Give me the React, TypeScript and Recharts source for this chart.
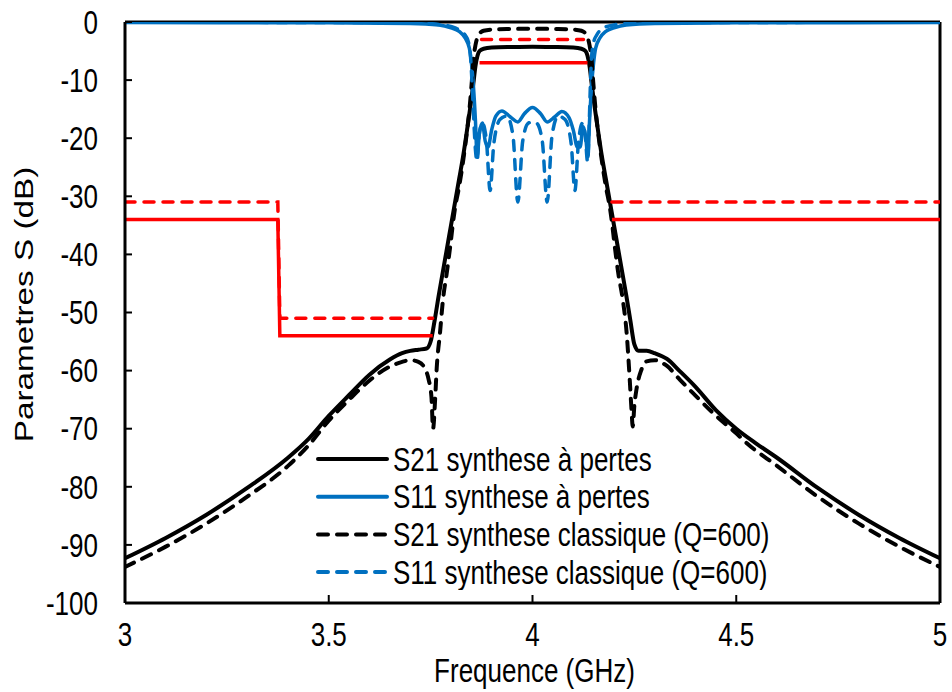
import React from 'react';
import { LineChart, Line, XAxis, YAxis, ReferenceLine, Legend } from 'recharts';

const FONT = '"Liberation Sans", Arial, sans-serif';
const FS = 26;
// the reference glyphs are taller than they are wide
const SY = 1.28;

// [frequence GHz, dB]
const s21Pertes: [number, number][] = [
  [3.0, -92.3], [3.1, -88.8], [3.2, -84.8], [3.3, -80.2], [3.4, -75.0], [3.45, -71.8],
  [3.5, -67.8], [3.55, -64.2], [3.6, -60.7], [3.65, -58.1], [3.68, -57.0], [3.7, -56.6],
  [3.72, -56.4], [3.74, -56.2], [3.75, -55.0], [3.76, -51.3], [3.77, -47.0], [3.78, -43.0],
  [3.79, -39.0], [3.8, -35.0], [3.81, -31.0], [3.82, -27.0], [3.83, -23.0], [3.84, -18.3],
  [3.85, -13.3], [3.855, -10.5], [3.86, -7.6], [3.865, -5.8], [3.87, -5.0], [3.88, -4.6],
  [3.9, -4.4], [3.95, -4.3], [4.0, -4.25], [4.05, -4.3], [4.1, -4.4], [4.12, -4.6],
  [4.13, -5.0], [4.135, -5.8], [4.14, -7.6], [4.145, -10.5], [4.15, -13.3], [4.16, -18.3],
  [4.17, -23.0], [4.18, -27.0], [4.19, -31.0], [4.2, -35.0], [4.21, -39.0], [4.22, -43.0],
  [4.23, -47.0], [4.24, -51.3], [4.25, -55.5], [4.26, -56.6], [4.28, -56.6], [4.3, -57.0],
  [4.33, -58.0], [4.36, -60.0], [4.4, -62.8], [4.45, -66.8], [4.5, -70.0], [4.55, -72.6],
  [4.6, -75.0], [4.7, -80.2], [4.8, -84.8], [4.9, -88.8], [5.0, -92.3],
];

const s11Pertes: [number, number][] = [
  [3.0, -0.1], [3.5, -0.15], [3.7, -0.25], [3.77, -0.5], [3.8, -1.0], [3.82, -1.6],
  [3.835, -2.8], [3.845, -4.5], [3.85, -7.0], [3.855, -11.0], [3.86, -17.0], [3.864, -23.2],
  [3.87, -19.0], [3.877, -17.4], [3.884, -20.5], [3.891, -21.5], [3.9, -18.5], [3.91, -16.2],
  [3.925, -15.3], [3.945, -16.3], [3.964, -17.2], [3.98, -15.8], [4.0, -14.7], [4.02, -15.8],
  [4.036, -17.2], [4.055, -16.3], [4.072, -15.4], [4.09, -16.5], [4.1, -18.6], [4.11, -21.5],
  [4.117, -21.5], [4.124, -18.0], [4.13, -19.5], [4.136, -23.2], [4.14, -17.0], [4.145, -11.0],
  [4.15, -7.0], [4.155, -4.5], [4.165, -2.8], [4.18, -1.6], [4.2, -1.0], [4.23, -0.5],
  [4.3, -0.25], [4.5, -0.15], [5.0, -0.1],
];

const s21Classique: [number, number][] = [
  [3.0, -93.8], [3.1, -90.3], [3.2, -86.3], [3.3, -81.7], [3.4, -76.4], [3.45, -72.9],
  [3.5, -68.6], [3.55, -65.0], [3.6, -61.7], [3.65, -59.3], [3.68, -58.5], [3.7, -58.2],
  [3.72, -58.5], [3.735, -59.5], [3.745, -61.5], [3.752, -64.5], [3.756, -70.0], [3.761, -65.0],
  [3.765, -59.5], [3.773, -53.5], [3.78, -48.0], [3.79, -43.0], [3.8, -37.5], [3.805, -34.5],
  [3.81, -32.0], [3.82, -28.3], [3.83, -23.8], [3.84, -18.4], [3.846, -14.5], [3.851, -10.3],
  [3.855, -6.5], [3.86, -4.0], [3.865, -2.6], [3.87, -2.0], [3.88, -1.5], [3.9, -1.3],
  [3.95, -1.2], [4.0, -1.15], [4.05, -1.2], [4.1, -1.3], [4.12, -1.5], [4.13, -2.0],
  [4.135, -2.6], [4.14, -4.0], [4.145, -6.5], [4.149, -10.3], [4.154, -14.5], [4.16, -18.4],
  [4.17, -23.8], [4.18, -28.3], [4.19, -32.0], [4.195, -34.5], [4.2, -37.5], [4.21, -43.0],
  [4.222, -48.0], [4.231, -53.5], [4.239, -62.0], [4.243, -66.8], [4.246, -69.6], [4.25, -66.0],
  [4.255, -63.3], [4.267, -59.9], [4.28, -58.4], [4.3, -58.2], [4.313, -58.5], [4.33, -59.2],
  [4.362, -61.6], [4.4, -64.3], [4.443, -67.3], [4.5, -70.8], [4.526, -72.5], [4.6, -76.4],
  [4.7, -81.7], [4.8, -86.3], [4.9, -90.3], [5.0, -93.8],
];

const s11Classique: [number, number][] = [
  [3.0, -0.05], [3.5, -0.08], [3.7, -0.12], [3.78, -0.5], [3.81, -1.0], [3.834, -2.2],
  [3.843, -3.5], [3.848, -6.0], [3.852, -11.0], [3.856, -17.0], [3.86, -22.0], [3.864, -24.0],
  [3.869, -19.5], [3.877, -17.4], [3.887, -20.5], [3.896, -29.0], [3.905, -21.0], [3.92, -16.8],
  [3.937, -16.2], [3.952, -19.5], [3.964, -31.0], [3.976, -20.5], [3.99, -17.4], [4.0, -17.2],
  [4.01, -17.4], [4.024, -20.5], [4.036, -31.0], [4.048, -19.5], [4.063, -16.2], [4.08, -16.8],
  [4.095, -21.0], [4.104, -29.0], [4.113, -20.5], [4.123, -17.4], [4.13, -20.0], [4.135, -24.0],
  [4.139, -18.0], [4.142, -11.0], [4.145, -6.0], [4.15, -3.5], [4.158, -2.2], [4.17, -1.2],
  [4.2, -0.5], [4.25, -0.2], [4.5, -0.08], [5.0, -0.05],
];

// gabarits (null = coupure)
const gabaritPertes: [number, number | null][] = [
  [3.0, -34], [3.375, -34], [3.38, -54], [3.755, -54], [3.8, null],
  [3.87, -7], [4.135, -7], [4.17, null], [4.195, -34], [5.0, -34],
];

const gabaritClassique: [number, number | null][] = [
  [3.0, -31], [3.375, -31], [3.38, -51], [3.755, -51], [3.8, null],
  [3.875, -3], [4.125, -3], [4.17, null], [4.195, -31], [5.0, -31],
];

const xTicks = [3, 3.5, 4, 4.5, 5];
const yTicks = [-100, -90, -80, -70, -60, -50, -40, -30, -20, -10, 0];

const legendOrder = [
  'S21 synthese à pertes',
  'S11 synthese à pertes',
  'S21 synthese classique (Q=600)',
  'S11 synthese classique (Q=600)',
];

const rows = (pts: [number, number | null][]) => pts.map(([f, db]) => ({ f, db }));

const DASH = '10 9';

const Txt = ({ x, y, anchor = 'middle', rotate = 0, children }: any) => (
  <text
    transform={`translate(${x},${y}) scale(1,${SY})${rotate ? ` rotate(${rotate})` : ''}`}
    textAnchor={anchor}
    dominantBaseline="central"
    fontSize={FS}
    fontFamily={FONT}
    fill="#000"
  >
    {children}
  </text>
);

const YTick = ({ x, y, payload }: any) => <Txt x={x} y={y} anchor="end">{payload.value}</Txt>;

const XTick = ({ x, y, payload }: any) => <Txt x={x} y={y}>{payload.value}</Txt>;

const yTitle = ({ viewBox }: any) => (
  <Txt x={24} y={viewBox.y + viewBox.height / 2 - 8} rotate={-90}>Parametres S (dB)</Txt>
);

const xTitle = ({ viewBox }: any) => (
  <Txt x={viewBox.x + viewBox.width / 2 + 2} y={670}>Frequence (GHz)</Txt>
);

const renderLegend = (props: any) => {
  const items = (props.payload || [])
    .filter((e: any) => e.type !== 'none')
    .sort((a: any, b: any) => legendOrder.indexOf(a.value) - legendOrder.indexOf(b.value));
  return (
    <svg width={480} height={150}>
      {items.map((e: any, i: number) => {
        const cy = 19 + i * 37.7;
        const dash = e.payload?.strokeDasharray;
        return (
          <g key={e.value}>
            <line x1={8} x2={77} y1={cy} y2={cy} stroke={e.color} strokeWidth={4}
              strokeDasharray={dash} strokeLinecap="round" />
            <Txt x={83} y={cy} anchor="start">{e.value}</Txt>
          </g>
        );
      })}
    </svg>
  );
};

export default function App() {
  return (
    <div style={{ position: 'absolute', left: 0, top: 0, width: 952, height: 692, background: '#fff' }}>
      <LineChart width={952} height={692} margin={{ top: 22, right: 12, left: 0, bottom: 0 }}>
        <XAxis
          dataKey="f"
          type="number"
          domain={[3, 5]}
          ticks={xTicks}
          allowDataOverflow
          height={89}
          axisLine={{ stroke: '#000', strokeWidth: 3 }}
          tickLine={{ stroke: '#000', strokeWidth: 2 }}
          tickSize={-8}
          tickMargin={39}
          tick={<XTick />}
          label={xTitle}
        />
        <YAxis
          type="number"
          domain={[-100, 0]}
          ticks={yTicks}
          allowDataOverflow
          width={125}
          axisLine={{ stroke: '#000', strokeWidth: 3 }}
          tickLine={{ stroke: '#000', strokeWidth: 2 }}
          tickSize={-7}
          tickMargin={34}
          tick={<YTick />}
          label={yTitle}
        />
        <ReferenceLine y={0} stroke="#000" strokeWidth={3} />
        <ReferenceLine x={5} stroke="#000" strokeWidth={3} />
        <Legend
          layout="vertical"
          align="center"
          verticalAlign="middle"
          content={renderLegend}
          wrapperStyle={{ left: 310, top: 440, width: 480, height: 150 }}
        />
        <Line data={rows(s21Pertes)} dataKey="db" name="S21 synthese à pertes" type="monotone"
          stroke="#000000" strokeWidth={4} dot={false} isAnimationActive={false} />
        <Line data={rows(s11Pertes)} dataKey="db" name="S11 synthese à pertes" type="monotone"
          stroke="#0070C0" strokeWidth={3.5} dot={false} isAnimationActive={false} />
        <Line data={rows(s21Classique)} dataKey="db" name="S21 synthese classique (Q=600)" type="monotone"
          stroke="#000000" strokeWidth={4} strokeDasharray={DASH} strokeLinecap="round" dot={false}
          isAnimationActive={false} />
        <Line data={rows(s11Classique)} dataKey="db" name="S11 synthese classique (Q=600)" type="monotone"
          stroke="#0070C0" strokeWidth={3.5} strokeDasharray={DASH} strokeLinecap="round" dot={false}
          isAnimationActive={false} />
        <Line data={rows(gabaritPertes)} dataKey="db" name="gabarit" legendType="none" stroke="#FF0000"
          strokeWidth={3.5} dot={false} isAnimationActive={false} />
        <Line data={rows(gabaritClassique)} dataKey="db" name="gabarit Q=600" legendType="none" stroke="#FF0000"
          strokeWidth={3.5} strokeDasharray={DASH} strokeLinecap="round" dot={false} isAnimationActive={false} />
      </LineChart>
    </div>
  );
}
